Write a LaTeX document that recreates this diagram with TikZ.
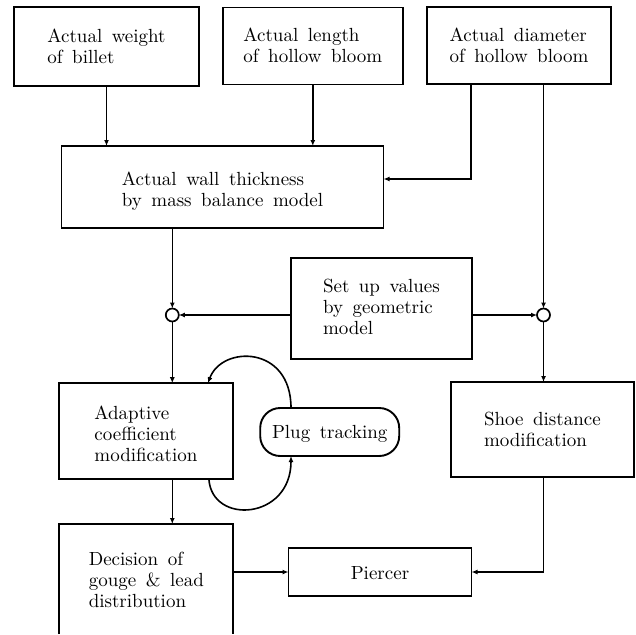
\documentclass[tikz,border=0pt]{standalone}
\usepackage{graphicx}
\usetikzlibrary{arrows.meta}
% text block set at 10pt design size and enlarged, with slightly open word spacing;
% the optional argument lowers the lines inside the box without changing its size
\newcommand\boxlines[2][0pt]{\raisebox{-#1}[\height][\depth]{\scalebox{1.9}{\fontsize{10}{11}\selectfont\spaceskip=0.5em plus 0.1em\relax
  \begin{tabular}{@{}l@{}}#2\end{tabular}}}}
\begin{document}
\begin{tikzpicture}[x=1pt,y=-1pt,
  box/.style={draw, line width=1.9pt, inner sep=0pt, outer sep=0pt},
  link/.style={line width=1.6pt, -{Latex[length=6pt,width=5pt]}},
  junction/.style={circle, draw, line width=1.7pt, minimum size=13pt, inner sep=0pt, outer sep=0pt}]
\useasboundingbox (0,0) rectangle (636,634);

% measured inputs
\node[box, minimum width=185pt, minimum height=79pt] (weight) at (106.5,46.7) {\boxlines[2pt]{Actual weight\\of billet}};
\node[box, minimum width=180pt, minimum height=77pt] (length) at (312.8,46) {\boxlines[2pt]{Actual length\\of hollow bloom}};
\node[box, minimum width=184pt, minimum height=77pt] (diam) at (519,45.8) {\boxlines[2pt]{Actual diameter\\of hollow bloom}};

% models
\node[box, minimum width=322pt, minimum height=82pt] (wall) at (222.5,187) {\boxlines[5pt]{Actual wall thickness\\by mass balance model}};
\node[box, minimum width=181pt, minimum height=101.5pt] (setup) at (381.4,308.3) {\boxlines[1pt]{Set up values\\by geometric\\model}};

% summing points
\node[junction] (jl) at (172.3,315) {};
\node[junction] (jr) at (543.5,315) {};

% correction stage
\node[box, minimum width=174pt, minimum height=96pt] (adapt) at (145.9,431.2) {\boxlines[5pt]{Adaptive\\coefficient\\modification}};
\node[box, minimum width=183pt, minimum height=95pt] (shoe) at (542.4,429.5) {\boxlines[2.5pt]{Shoe distance\\modification}};
\node[box, rounded corners=20pt, minimum width=139pt, minimum height=48pt] (plug) at (329.7,432) {\boxlines[2pt]{Plug tracking}};

% output stage
\node[box, draw=none, minimum width=174pt, minimum height=110pt] (dec) at (146.3,579) {\boxlines[3pt]{Decision of\\gouge \& lead\\distribution}};
\draw[line width=1.9pt] (dec.south west) -- (dec.north west) -- (dec.north east) -- (dec.south east);
\node[box, minimum width=183pt, minimum height=48pt] (pierce) at (380,572) {\boxlines[3pt]{Piercer}};

% connectors
\draw[link] (weight.south) -- (weight.south |- wall.north);
\draw[link] (length.south) -- (length.south |- wall.north);
\draw[link] ([xshift=-48pt]diam.south) |- ([yshift=8pt]wall.east);
\draw[link] (diam.south -| jr) -- (jr.north);
\draw[link] (wall.south -| jl) -- (jl.north);
\draw[link] (setup.west |- jl) -- (jl.east);
\draw[link] (setup.east |- jr) -- (jr.west);
\draw[link] (jl.south) -- (jl |- adapt.north);
\draw[link] (jr.south) -- (jr |- shoe.north);
\draw[link] (adapt.south -| jl) -- (dec.north -| jl);
\draw[link] (dec.east |- pierce) -- (pierce.west);
\draw[link] (shoe.south -| jr) |- (pierce.east);

% plug tracking loop
\draw[link] ([xshift=-38.7pt]plug.north) .. controls +(0,-63) and +(14,-38) .. ([xshift=62pt]adapt.north);
\draw[link] ([xshift=63pt]adapt.south) .. controls +(3,46) and +(0,64) .. ([xshift=-38.7pt]plug.south);
\end{tikzpicture}
\end{document}
